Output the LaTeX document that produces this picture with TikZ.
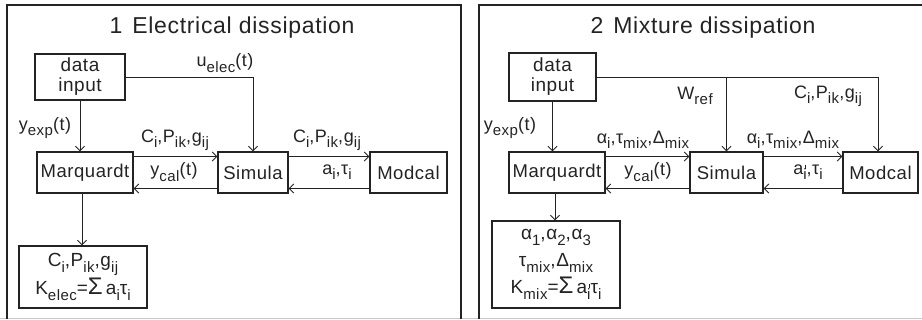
\documentclass[tikz,border=0pt]{standalone}
\usepackage{fontspec}
\setmainfont{Liberation Sans}[LetterSpace=3]
\usetikzlibrary{arrows.meta}
\definecolor{ink}{RGB}{35,35,35}
\definecolor{rule}{RGB}{200,200,200}
\newcommand\lo[1]{\raisebox{-0.3em}{\fontsize{15}{15}\selectfont #1}}
\newcommand\lp[1]{\rlap{\hspace{1.6pt}\raisebox{0.28em}{\rule{0.9pt}{4.5pt}}}\lo{#1}}
\newcommand\sig{{\fontsize{24}{24}\selectfont Σ}}
\begin{document}
\begin{tikzpicture}[x=1pt,y=-1pt,
  frame/.style={draw=ink,line width=1.2pt},
  box/.style={draw=ink,line width=1.3pt,inner sep=0pt,minimum height=41pt,text=ink,font=\fontsize{18.5}{22}\selectfont},
  lab/.style={inner sep=0pt,text=ink,font=\fontsize{18}{20}\selectfont},
  ttl/.style={inner sep=0pt,text=ink,font=\fontsize{23}{26}\selectfont},
  conn/.style={draw=ink,line width=0.9pt,-{Straight Barb[length=4.5pt,width=9pt]}}]
\useasboundingbox (0,0) rectangle (922,320);
\draw[rule,line width=1pt] (0,319) -- (922,319);
\draw[frame] (7,319) -- (7,5) -- (461,5) -- (461,319);
\draw[frame] (479,319) -- (479,5) -- (922,5);

% ---------- panel 1 ----------
\node[ttl] (t1) at (232,28) {1\hspace{10pt}Electrical dissipation};
\node[box,minimum width=90pt,minimum height=46pt,align=center,font=\fontsize{19}{20}\selectfont] (din) at (80,77) {data\\input};
\node[box,minimum width=96pt] (marq) at (85,172.5) {Marquardt};
\node[box,minimum width=70pt] (sim) at (253,172.5) {Simula};
\node[box,minimum width=77pt] (mod) at (408.5,172.5) {Modcal};
\node[box,minimum width=128pt,minimum height=62pt,align=center,font=\fontsize{19}{28}\selectfont] (res) at (83,277)
  {C\lo{i},P\lo{ik},g\lo{ij}\\K\lo{elec}=\sig\,a\lo{i}τ\lo{i}};

\draw[conn] (din.south) -- (din.south |- marq.north);
\draw[conn] (din.east) -| (sim.north);
\draw[conn] ([yshift=16pt]marq.east) -- ([yshift=16pt]sim.west);
\draw[conn] ([yshift=-16pt]sim.west) -- ([yshift=-16pt]marq.east);
\draw[conn] ([yshift=16pt]sim.east) -- ([yshift=16pt]mod.west);
\draw[conn] ([yshift=-16pt]mod.west) -- ([yshift=-16pt]sim.east);
\draw[conn] ([xshift=-3pt]marq.south) -- ([xshift=-3pt]marq.south |- res.north);

\node[lab] (l1) at (225,63) {u\lo{elec}(t)};
\node[lab] (l2) at (45,128) {y\lo{exp}(t)};
\node[lab] (l3) at (175,140) {C\lo{i},P\lo{ik},g\lo{ij}};
\node[lab] (l4) at (327,140) {C\lo{i},P\lo{ik},g\lo{ij}};
\node[lab] (l5) at (174,172) {y\lo{cal}(t)};
\node[lab] (l6) at (337,172) {a\lo{i},τ\lo{i}};

% ---------- panel 2 ----------
\node[ttl] (t2) at (703,28) {2\hspace{10pt}Mixture dissipation};
\node[box,minimum width=87pt,minimum height=48pt,align=center,font=\fontsize{19}{20}\selectfont] (din2) at (552.5,77) {data\\input};
\node[box,minimum width=96pt] (marq2) at (557,172.5) {Marquardt};
\node[box,minimum width=73pt] (sim2) at (726.5,172.5) {Simula};
\node[box,minimum width=75pt] (mod2) at (880.5,172.5) {Modcal};
\node[box,minimum width=128pt,minimum height=87pt,align=center,font=\fontsize{19}{27}\selectfont] (res2) at (556,264.5)
  {α\lo{1},α\lo{2},α\lo{3}\\τ\lo{mix},Δ\lo{mix}\\K\lo{mix}=\sig\,a\lp{i}τ\lo{i}};

\draw[conn] (din2.south) -- (din2.south |- marq2.north);
\draw[conn] (din2.east) -| ([xshift=-2.5pt]mod2.north);
\draw[conn] (din2.east -| sim2.north) -- (sim2.north);
\draw[conn] ([yshift=16pt]marq2.east) -- ([yshift=16pt]sim2.west);
\draw[conn] ([yshift=-16pt]sim2.west) -- ([yshift=-16pt]marq2.east);
\draw[conn] ([yshift=16pt]sim2.east) -- ([yshift=16pt]mod2.west);
\draw[conn] ([yshift=-16pt]mod2.west) -- ([yshift=-16pt]sim2.east);
\draw[conn] ([xshift=-2pt]marq2.south) -- ([xshift=-2pt]marq2.south |- res2.north);

\node[lab] (m1) at (695,96) {W\lo{ref}};
\node[lab] (m2) at (828,96) {C\lo{i},P\lo{ik},g\lo{ij}};
\node[lab] (m3) at (510,128) {y\lo{exp}(t)};
\node[lab] (m4) at (643,140) {α\lo{i},τ\lo{mix},Δ\lo{mix}};
\node[lab] (m5) at (793,140) {α\lo{i},τ\lo{mix},Δ\lo{mix}};
\node[lab] (m6) at (648,172) {y\lo{cal}(t)};
\node[lab] (m7) at (808,172) {a\lp{i},τ\lo{i}};
\end{tikzpicture}
\end{document}
